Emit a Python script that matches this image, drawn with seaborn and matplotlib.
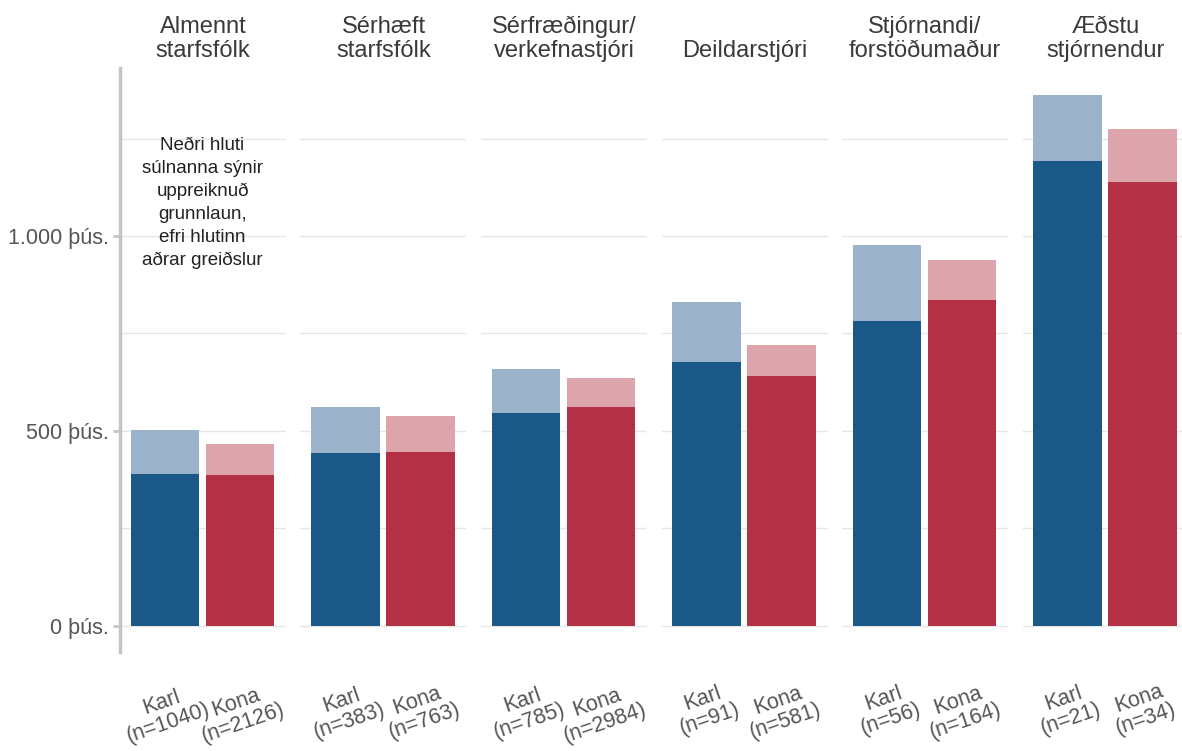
import matplotlib
matplotlib.use("Agg")
import matplotlib.pyplot as plt
import pandas as pd
import seaborn as sns

# ── Data (þúsundir króna) ────────────────────────────────────────────────
groups = [
    "Almennt\nstarfsfólk",
    "Sérhæft\nstarfsfólk",
    "Sérfræðingur/\nverkefnastjóri",
    "Deildarstjóri",
    "Stjórnandi/\nforstöðumaður",
    "Æðstu\nstjórnendur",
]
n_karl = [1040, 383, 785, 91, 56, 21]
n_kona = [2126, 763, 2984, 581, 164, 34]
base_karl = [390, 444, 546, 677, 782, 1192]
total_karl = [503, 562, 659, 831, 977, 1362]
base_kona = [387, 446, 562, 641, 836, 1138]
total_kona = [467, 539, 636, 721, 939, 1274]

yticks = [0, 500, 1000]
note = "Neðri hluti\nsúlnanna sýnir\nuppreiknuð\ngrunnlaun,\nefri hlutinn\naðrar greiðslur"

dark = {"Karl": "#1a5888", "Kona": "#b33144"}
light = {"Karl": "#9ab3cb", "Kona": "#dca4ab"}

sns.set_theme(style="white")
plt.rcParams["font.family"] = ["Liberation Sans", "DejaVu Sans"]

W, H = 1182, 751
fig = plt.figure(figsize=(W / 100, H / 100), dpi=100)

ax_left, ax_w, step = 120, 166, 180.5
ax_top, ax_bot = 68, 652

for i, grp in enumerate(groups):
    x0 = ax_left + i * step
    ax = fig.add_axes([x0 / W, (H - ax_bot) / H, ax_w / W, (ax_bot - ax_top) / H])
    df = pd.DataFrame({
        "kyn": ["Karl", "Kona"],
        "label": [f"Karl\n(n={n_karl[i]})", f"Kona\n(n={n_kona[i]})"],
        "total": [total_karl[i], total_kona[i]],
        "base": [base_karl[i], base_kona[i]],
    })
    for y_col, pal in [("total", light), ("base", dark)]:
        sns.barplot(data=df, x="label", y=y_col, hue="kyn", palette=pal,
                    dodge=False, width=0.907, legend=False, saturation=1,
                    linewidth=0, ax=ax)

    for g in range(0, 1500, 250):
        ax.axhline(g, color="#e6e6e6", lw=1, zorder=0)
    ax.set_xlim(-0.6, -0.6 + ax_w / 75)
    ax.set_ylim(-67, 1431)
    ax.set_xlabel("")
    ax.set_ylabel("")
    ax.set_title(grp, fontsize=17, color="#3a3a3a", pad=8, linespacing=1.1)
    ax.tick_params(axis="x", length=0, pad=19, labelsize=15.5, labelcolor="#555555")
    for lab in ax.get_xticklabels():
        lab.set_rotation(19)
        lab.set_ha("center")
        lab.set_linespacing(1.05)
    for s in ["top", "right", "bottom"]:
        ax.spines[s].set_visible(False)
    if i == 0:
        ax.spines["left"].set_color("#c4c4c4")
        ax.spines["left"].set_linewidth(2.5)
        ax.set_yticks(yticks)
        ax.set_yticklabels([f"{v:,} þús.".replace(",", ".") for v in yticks])
        ax.tick_params(axis="y", length=5, width=2, color="#c4c4c4",
                       labelsize=15.5, labelcolor="#555555", pad=3, left=True)
        ax.text(0.5, 1085, note, ha="center", va="center", fontsize=13.5,
                color="#222222", linespacing=1.45)
    else:
        ax.spines["left"].set_visible(False)
        ax.set_yticks([])

fig.savefig("out.png", dpi=100)
